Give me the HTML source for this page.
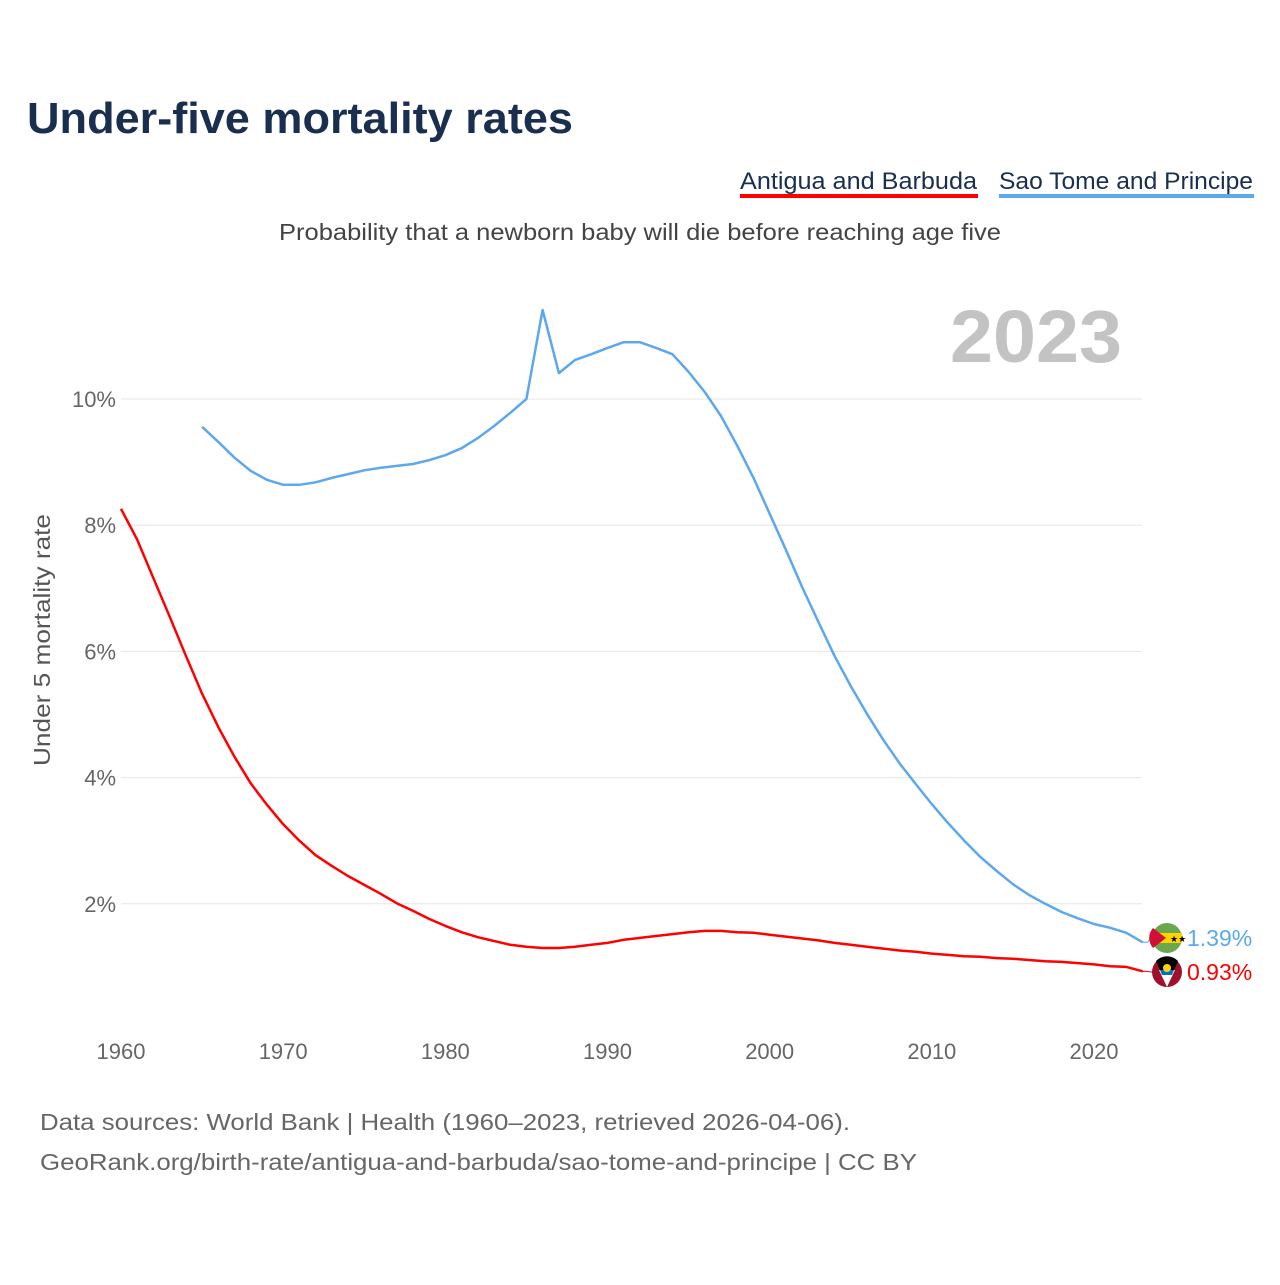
<!DOCTYPE html>
<html><head><meta charset="utf-8"><style>
body{margin:0;background:#fff;font-family:"Liberation Sans",sans-serif}
svg text{font-family:"Liberation Sans",sans-serif}
</style></head><body>
<svg id="chart" width="1280" height="1280" viewBox="0 0 1280 1280">
<text x="27" y="133" font-size="44" font-weight="bold" fill="#1a2e4f" textLength="546" lengthAdjust="spacingAndGlyphs">Under-five mortality rates</text>
<g>
<text x="740" y="189" font-size="24" fill="#1a2e4f" textLength="237" lengthAdjust="spacingAndGlyphs">Antigua and Barbuda</text>
<rect x="740" y="194" width="238" height="4" fill="#ff0000"/>
<text x="999" y="189" font-size="24" fill="#1a2e4f" textLength="254" lengthAdjust="spacingAndGlyphs">Sao Tome and Principe</text>
<rect x="999" y="194" width="255" height="4" fill="#5da8ec"/>
</g>
<text x="279" y="240" font-size="23" fill="#444" textLength="722" lengthAdjust="spacingAndGlyphs">Probability that a newborn baby will die before reaching age five</text>
<text x="1122" y="362" font-size="74" font-weight="bold" fill="#c3c3c3" text-anchor="end" textLength="172" lengthAdjust="spacingAndGlyphs">2023</text>
<text transform="translate(50,640) rotate(-90)" font-size="23" fill="#555" text-anchor="middle" textLength="252" lengthAdjust="spacingAndGlyphs">Under 5 mortality rate</text>
<g id="grid"></g><g id="xticks"></g><g id="lines"></g><g id="ends"></g>
<text x="40" y="1130" font-size="23" fill="#666" textLength="810" lengthAdjust="spacingAndGlyphs">Data sources: World Bank | Health (1960–2023, retrieved 2026-04-06).</text>
<text x="40" y="1170" font-size="23" fill="#666" textLength="877" lengthAdjust="spacingAndGlyphs">GeoRank.org/birth-rate/antigua-and-barbuda/sao-tome-and-principe | CC BY</text>
</svg>
<script>
const yTicks=[2,4,6,8,10];
const xTicks=[1960,1970,1980,1990,2000,2010,2020];
const antiguaStart=1960;
const antigua=[8.26,7.77,7.16,6.55,5.93,5.33,4.80,4.33,3.91,3.57,3.26,3.00,2.77,2.60,2.44,2.30,2.16,2.01,1.89,1.76,1.65,1.55,1.47,1.41,1.35,1.32,1.30,1.30,1.32,1.35,1.38,1.43,1.46,1.49,1.52,1.55,1.57,1.57,1.55,1.54,1.51,1.48,1.45,1.42,1.38,1.35,1.32,1.29,1.26,1.24,1.21,1.19,1.17,1.16,1.14,1.13,1.11,1.09,1.08,1.06,1.04,1.01,1.00,0.93];
const saoStart=1965;
const sao=[9.56,9.32,9.07,8.86,8.72,8.64,8.64,8.68,8.75,8.81,8.87,8.91,8.94,8.97,9.03,9.11,9.22,9.38,9.57,9.78,10.0,11.41,10.41,10.62,10.71,10.81,10.90,10.90,10.81,10.71,10.43,10.11,9.73,9.26,8.75,8.18,7.61,7.02,6.47,5.93,5.45,5.01,4.60,4.23,3.90,3.58,3.28,3.00,2.74,2.52,2.31,2.14,2.00,1.87,1.77,1.68,1.62,1.54,1.39];
const NS='http://www.w3.org/2000/svg';
const X=y=>121+(y-1960)*(1094-121)/60;
const Y=v=>1030-v*63.1;
function mk(t,a,p){const e=document.createElementNS(NS,t);for(const k in a)e.setAttribute(k,a[k]);p.appendChild(e);return e;}
const grid=document.getElementById('grid');
yTicks.forEach(v=>{
 const l=mk('line',{x1:121,x2:1142,y1:Y(v),y2:Y(v),stroke:'#e6e6e6','stroke-width':1},grid);
 
 
 const t=mk('text',{x:116,y:Y(v)+8,'font-size':22,fill:'#666','text-anchor':'end'},grid);
 t.textContent=v+'%';
 
 
});
const xt=document.getElementById('xticks');
xTicks.forEach(y=>{
 const t=mk('text',{x:X(y),y:1059,'font-size':22,fill:'#666','text-anchor':'middle'},xt);
 t.textContent=y;
 
 
});
const lines=document.getElementById('lines');
function path(data,start,color,name){
 const d=data.map((v,i)=>(i?'L':'M')+X(start+i).toFixed(1)+','+Y(v).toFixed(1)).join('');
 const p=mk('path',{d:d,fill:'none',stroke:color,'stroke-width':2.5,'stroke-linejoin':'round'},lines);
 
 
}
path(sao,saoStart,'#5da8ec','line-sao-tome');
path(antigua,antiguaStart,'#ff0000','line-antigua');
const ends=document.getElementById('ends');
function end(data,start,color,cy,name,flag){
 const v=data[data.length-1],x=X(start+data.length-1),y=Y(v);
 mk('path',{d:`M${x},${y}L${x+5},${y}L${x+8},${cy}L${x+12},${cy}`,fill:'none',stroke:color,'stroke-width':1},ends);
 const g=mk('g',{},ends);
 
 
 if(flag==='flag-sao-tome'){
  mk('circle',{cx:1167,cy:cy,r:15,fill:'#6aa84f'},g);
  mk('rect',{x:1152,y:cy-5,width:30,height:10,fill:'#ffd200'},g);
  mk('path',{d:`M1153,${cy-10}L1166,${cy}L1153,${cy+10}A15,15 0 0 1 1153,${cy-10}Z`,fill:'#d21034'},g);
  mk('text',{x:1170,y:cy+4,'font-size':9,fill:'#000'},g).textContent='★★';
 }else{
  mk('circle',{cx:1167,cy:cy,r:15,fill:'#a0102a'},g);
  mk('path',{d:`M1156,${cy-11}A15,15 0 0 1 1178,${cy-11}L1167,${cy+15}Z`,fill:'#000'},g);
  mk('path',{d:`M1159,${cy-2}L1175,${cy-2}L1167,${cy+15}Z`,fill:'#fff'},g);
  mk('path',{d:`M1160,${cy-2}L1174,${cy-2}L1172,${cy+3}L1162,${cy+3}Z`,fill:'#0072c6'},g);
  mk('circle',{cx:1167,cy:cy-4,r:4,fill:'#fcd116'},g);
 }
 const t=mk('text',{x:1187,y:cy+8,'font-size':23,fill:color},ends);
 t.textContent=v.toFixed(2)+'%';
 
 
}
end(sao,saoStart,'#5da8ec',938,'end-label-sao-tome','flag-sao-tome');
end(antigua,antiguaStart,'#ff0000',972,'end-label-antigua','flag-antigua');
</script>
</body></html>
